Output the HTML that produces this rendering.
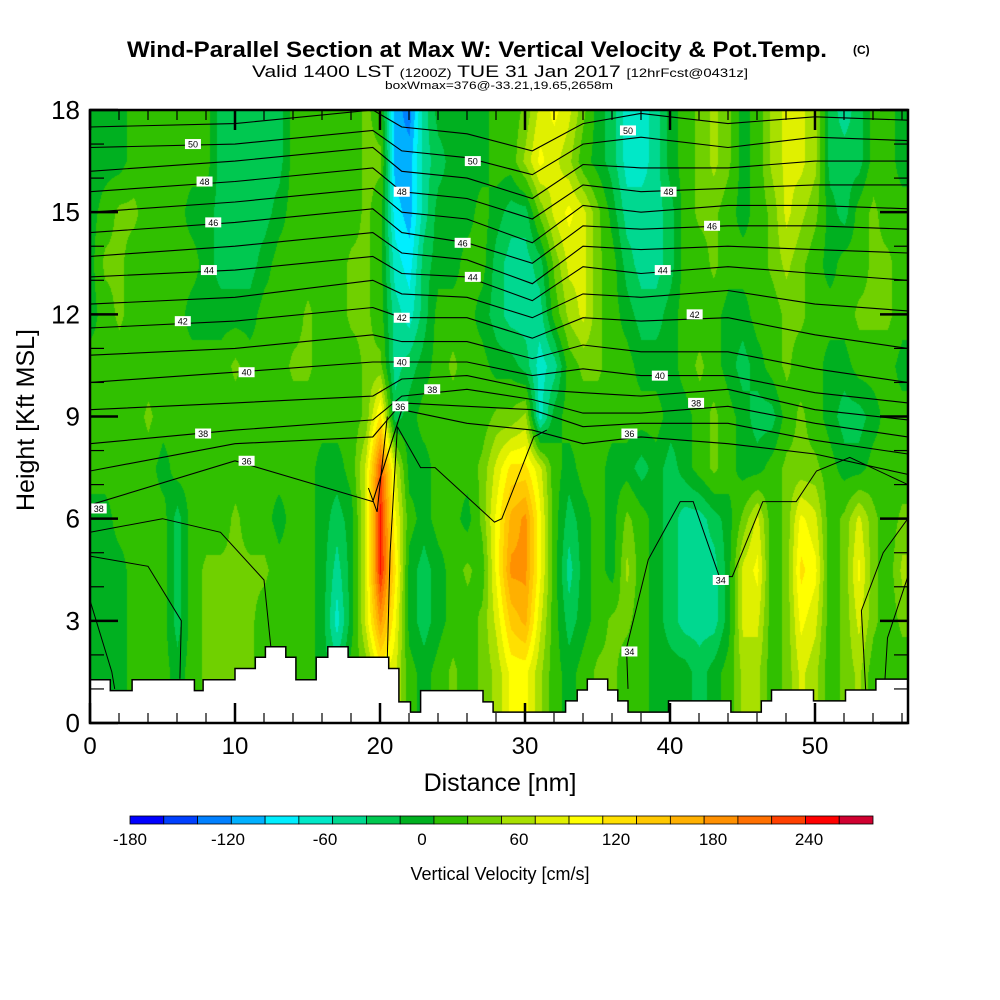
<!DOCTYPE html>
<html><head><meta charset="utf-8"><style>
html,body{margin:0;padding:0;background:#fff;}
#wrap{position:relative;width:1000px;height:1000px;overflow:hidden;}
#field{position:absolute;left:90px;top:110px;}
svg{position:absolute;left:0;top:0;}
text{font-family:"Liberation Sans",sans-serif;}
</style></head><body>
<div id="wrap">
<canvas id="field" width="818" height="613"></canvas>
<svg id="ov" width="1000" height="1000"></svg>
</div>
<script>
// ---- data ----
const colorLevels = ["#0000ff","#0040ff","#0080ff","#00b0ff","#00eeff","#00e8c8","#00d890","#00c850","#00b020","#30c000","#70d000","#a8e000","#e0f000","#ffff00","#ffe000","#ffc800","#ffb000","#ff9000","#ff7000","#ff4000","#ff0000","#d00030"];
const cbarLabels = ["-180","-120","-60","0","60","120","180","240"];
const cbarLabelX = [130,228,325,422,519,616,713,809];
const gridHeights = [18,16.5,15,13.5,12,10.5,9,7.5,6,4.5,3,1.5,0];
const wRows = [
"8889999997"+"777799999a"+"9326888899"+"acdca87556"+"89aba89bcc"+"b767998",
"8889999997"+"777799999a"+"a336788899"+"bdcb987556"+"89aba89bcc"+"b777998",
"89aa999887"+"777899999a"+"9436888987"+"7acdca8666"+"79aa989acb"+"a879a99",
"8aa9999987"+"77899999aa"+"9547889976"+"67acca9766"+"799a999aba"+"9899aa9",
"89a9999888"+"88999a99aa"+"9657999876"+"669bca9877"+"89998899aa"+"999aaa9",
"9999999999"+"a999aa999a"+"a6789a9988"+"7569aa9988"+"89a98789a9"+"9889998",
"9999a99999"+"999999999a"+"e7899999aa"+"b589999999"+"889a98779a"+"9877899",
"9999989999"+"999999889c"+"jc88999ace"+"ec98998878"+"789a9889aa"+"a988999",
"8899997999"+"a99899878c"+"kd98998adg"+"hd97898a98"+"76678ac9ad"+"c9aca9a",
"88899979aa"+"aaa999868c"+"ke8789a9dh"+"hd96898b98"+"76668cd9ae"+"d9ada9b",
"88899979aa"+"aa9999858c"+"hd87899acf"+"gc9789aa98"+"76668cc9ad"+"c9aca9a",
"88899989aa"+"aa9999879a"+"dc989a9abd"+"db989aa998"+"88789bb9ac"+"b9ab999",
"88899989aa"+"aa9999879a"+"dc989a9abd"+"db989aa998"+"88789bb9ac"+"b9ab999"
];
const terrainStart = [0,1.4,2.9,7.2,7.8,10.0,11.4,12.1,13.5,14.2,15.6,16.4,17.8,20.6,21.3,22.1,22.8,27.1,27.8,32.8,33.6,34.3,35.7,36.4,37.1,39.9,44.2,46.3,47.0,49.9,52.1,54.2];
const terrainH = [1.27,0.95,1.27,0.95,1.27,1.6,1.93,2.24,1.93,1.27,1.93,2.24,1.93,1.6,0.62,0.32,0.95,0.62,0.32,0.65,0.97,1.29,0.97,0.65,0.32,0.65,0.32,0.65,0.97,0.65,0.97,1.29];
const thetaNodes = [0,10,19.5,21.5,26,30.5,34,38,44,50,56.4];
const thetaLevels = [36,37,38,39,40,41,42,43,44,45,46,47,48,49,50,51];
const thetaH = [
[6.4,7.7,6.5,9.2,8.8,8.6,8.2,8.4,8.2,7.9,7.3],
[7.4,8.2,8.4,9.4,9.3,9.2,8.7,8.8,8.8,8.3,7.9],
[8.2,8.6,8.9,9.6,9.8,9.5,9.1,9.1,9.3,8.8,8.4],
[9.2,9.4,9.6,10.1,10.2,9.8,9.7,9.6,9.8,9.2,8.9],
[10.0,10.3,10.6,10.6,10.6,10.2,10.4,10.2,10.2,9.7,9.4],
[10.8,11.0,11.4,11.2,11.2,10.7,11.1,10.9,10.9,10.4,10.0],
[11.6,11.8,12.2,11.9,11.9,11.3,11.9,11.8,11.9,11.4,11.0],
[12.3,12.5,13.0,12.6,12.5,11.9,12.6,12.5,12.7,12.3,12.1],
[13.1,13.3,13.7,13.2,13.1,12.4,13.4,13.2,13.4,13.2,13.0],
[13.7,14.0,14.4,13.8,13.6,12.9,14.0,13.9,14.0,13.9,13.8],
[14.4,14.7,15.1,14.4,14.1,13.5,14.6,14.5,14.6,14.6,14.5],
[15.0,15.3,15.7,15.0,14.8,14.1,15.2,15.0,15.2,15.2,15.1],
[15.6,15.9,16.3,15.6,15.4,14.8,15.8,15.6,15.7,15.8,15.8],
[16.2,16.5,16.9,16.2,16.0,15.4,16.4,16.3,16.3,16.5,16.5],
[16.9,17.0,17.4,16.8,16.6,16.1,17.0,17.2,16.9,17.2,17.1],
[17.5,17.6,18.0,17.5,17.3,16.8,17.6,17.9,17.6,17.8,17.7]
];
const extraContours = [
[[0,5.6],[5,6.0],[9,5.6],[12,4.2],[12.7,1.3]],
[[0,4.9],[4,4.6],[6.3,3.0],[6.2,1.3]],
[[0,3.6],[1.5,1.5],[1.7,1.0]],
[[20.5,1.9],[20.7,5],[21.2,8.7]],
[[19.2,6.9],[19.8,6.2],[20.5,9.0]],
[[21.2,8.7],[22.8,7.5],[23.8,7.5],[27.9,5.9],[28.4,6.0],[30.6,8.4],[31.5,8.6]],
[[37.1,1.0],[37.0,2.2],[38.5,4.8],[40.7,6.5],[41.6,6.5],[43.4,4.3],[44.3,4.3],[46.4,6.5],[48.7,6.5],[50.1,7.4],[52.4,7.8],[56.4,7.0]],
[[56.4,6.0],[54.7,5],[53.2,3.3],[53.5,0.9]],
[[56.4,4.3],[55,2.5],[54.8,1.1]]
];
const contourLabelText = ["50","48","46","44","42","40","38","36","38","50","48","46","44","42","40","38","36","50","46","44","48","42","40","38","36","34","34"];
const contourLabelX = [7.1,7.9,8.5,8.2,6.4,10.8,7.8,10.8,0.6,37.1,39.9,42.9,39.5,41.7,39.3,41.8,37.2,26.4,25.7,26.4,21.5,21.5,21.5,23.6,21.4,43.5,37.2];
const contourLabelH = [17.0,15.9,14.7,13.3,11.8,10.3,8.5,7.7,6.3,17.4,15.6,14.6,13.3,12.0,10.2,9.4,8.5,16.5,14.1,13.1,15.6,11.9,10.6,9.8,9.3,4.2,2.1];
const xTicks = [0,10,20,30,40,50];
const yTicks = [0,3,6,9,12,15,18];

// ---- axes ----
const X0=90,X1=908,Y0=723,Y1=110,XMAX=(908-90)/14.5;
function sx(v){return X0+v*14.5;}
function sy(h){return Y0-(Y0-Y1)*h/18;}

// ---- field ----
const grid = wRows.map(r=>{const a=[];for(const c of r){a.push(parseInt(c,36));}while(a.length<57)a.push(a[a.length-1]);return a;});
const cv=document.getElementById('field'),ctx=cv.getContext('2d');
const img=ctx.createImageData(818,613);
const rgb=colorLevels.map(c=>[parseInt(c.slice(1,3),16),parseInt(c.slice(3,5),16),parseInt(c.slice(5,7),16)]);
for(let py=0;py<613;py++){
  const h=(613-py)/613*18;
  let r=0;while(r<gridHeights.length-2&&gridHeights[r+1]>h)r++;
  const t=(gridHeights[r]-h)/(gridHeights[r]-gridHeights[r+1]);
  for(let px=0;px<818;px++){
    let x=px/14.5; if(x>56)x=56;
    const c=Math.min(55,Math.floor(x)),u=x-c;
    let v=(1-t)*((1-u)*grid[r][c]+u*grid[r][c+1])+t*((1-u)*grid[r+1][c]+u*grid[r+1][c+1]);
    if(v>9)v=v-0.2;
    const k=Math.max(0,Math.min(21,Math.round(v)));
    const o=(py*818+px)*4;img.data[o]=rgb[k][0];img.data[o+1]=rgb[k][1];img.data[o+2]=rgb[k][2];img.data[o+3]=255;
  }
}
ctx.putImageData(img,0,0);

// ---- svg ----
const NS="http://www.w3.org/2000/svg",svg=document.getElementById('ov');
function el(tag,attrs,parent){const e=document.createElementNS(NS,tag);for(const k in attrs)e.setAttribute(k,attrs[k]);(parent||svg).appendChild(e);return e;}
function txt(s,attrs,parent){const e=el('text',attrs,parent);e.textContent=s;return e;}

const defs=el('defs',{});const cp=el('clipPath',{id:'pc'},defs);el('rect',{x:X0,y:Y1,width:X1-X0,height:Y0-Y1},cp);
const gC=el('g',{'clip-path':'url(#pc)'});


thetaLevels.forEach((lv,i)=>{
  const pts=thetaNodes.map((n,j)=>sx(n).toFixed(1)+','+sy(thetaH[i][j]).toFixed(1)).join(' ');
  const p=el('polyline',{points:pts,fill:'none',stroke:'#000','stroke-width':1.1},gC);
  
  
});
extraContours.forEach((c,i)=>{
  const p=el('polyline',{points:c.map(q=>sx(q[0]).toFixed(1)+','+sy(q[1]).toFixed(1)).join(' '),fill:'none',stroke:'#000','stroke-width':1},gC);
  
  
});
// terrain
let tp=sx(0)+','+sy(0)+' ';
terrainStart.forEach((s,i)=>{const e=i+1<terrainStart.length?terrainStart[i+1]:XMAX;tp+=sx(s).toFixed(1)+','+sy(terrainH[i]).toFixed(1)+' '+sx(e).toFixed(1)+','+sy(terrainH[i]).toFixed(1)+' ';});
tp+=sx(XMAX)+','+sy(0);
const terr=el('polygon',{points:tp,fill:'#fff',stroke:'#000','stroke-width':1.5},gC);


// contour labels
contourLabelText.forEach((s,i)=>{
  const g=el('g',{});
  
  
  el('rect',{x:sx(contourLabelX[i])-8,y:sy(contourLabelH[i])-5,width:16,height:10,fill:'#fff'},g);
  txt(s,{x:sx(contourLabelX[i]),y:sy(contourLabelH[i])+3.5,'font-size':9,'text-anchor':'middle',fill:'#000'},g);
});
// frame
const fr=el('rect',{x:X0,y:Y1,width:X1-X0,height:Y0-Y1,fill:'none',stroke:'#000','stroke-width':2.5});


// ticks
for(let v=0;v<=56;v+=2){const maj=v%10===0,L=maj?20:10;
  el('line',{x1:sx(v),x2:sx(v),y1:Y0,y2:Y0-L,stroke:'#000','stroke-width':maj?2.5:1.2});
  el('line',{x1:sx(v),x2:sx(v),y1:Y1,y2:Y1+L,stroke:'#000','stroke-width':maj?2.5:1.2});}
for(let v=0;v<=18;v++){const maj=v%3===0,L=maj?28:14;
  el('line',{x1:X0,x2:X0+L,y1:sy(v),y2:sy(v),stroke:'#000','stroke-width':maj?2.5:1.2});
  el('line',{x1:X1,x2:X1-L,y1:sy(v),y2:sy(v),stroke:'#000','stroke-width':maj?2.5:1.2});}
xTicks.forEach(v=>{const t=txt(String(v),{x:sx(v),y:754,'font-size':24,'text-anchor':'middle'});
  
  });
yTicks.forEach(v=>{const t=txt(String(v),{x:80,y:sy(v)+9,'font-size':26,'text-anchor':'end'});
  
  });
// colorbar
const CB0=130,CB1=873,cw=(CB1-CB0)/colorLevels.length;
colorLevels.forEach((c,i)=>{const r=el('rect',{x:CB0+i*cw,y:816,width:cw,height:8,fill:c,stroke:'#000','stroke-width':0.8});
  
  });
cbarLabels.forEach((s,i)=>{const t=txt(s,{x:cbarLabelX[i],y:845,'font-size':17,'text-anchor':'middle'});
  
  });
</script>
<svg width="1000" height="1000" style="position:absolute;left:0;top:0;pointer-events:none">
<text x="127" y="57" font-size="22" font-weight="bold" textLength="700" lengthAdjust="spacingAndGlyphs" style="font-family:'Liberation Sans',sans-serif">Wind-Parallel Section at Max W: Vertical Velocity &amp; Pot.Temp.</text>
<text x="853" y="54" font-size="12" font-weight="bold" style="font-family:'Liberation Sans',sans-serif">(C)</text>
<text x="252" y="77" font-size="17" textLength="496" lengthAdjust="spacingAndGlyphs" style="font-family:'Liberation Sans',sans-serif">Valid 1400 LST <tspan font-size="12">(1200Z)</tspan> TUE 31 Jan 2017 <tspan font-size="12">[12hrFcst@0431z]</tspan></text>
<text x="385" y="89" font-size="11" textLength="228" lengthAdjust="spacingAndGlyphs" style="font-family:'Liberation Sans',sans-serif">boxWmax=376@-33.21,19.65,2658m</text>
<text x="500" y="791" font-size="25" text-anchor="middle" style="font-family:'Liberation Sans',sans-serif">Distance [nm]</text>
<text x="0" y="0" font-size="25" text-anchor="middle" transform="translate(34,420) rotate(-90)" style="font-family:'Liberation Sans',sans-serif">Height [Kft MSL]</text>
<text x="500" y="880" font-size="18" text-anchor="middle" style="font-family:'Liberation Sans',sans-serif">Vertical Velocity [cm/s]</text>
</svg>
</body></html>
